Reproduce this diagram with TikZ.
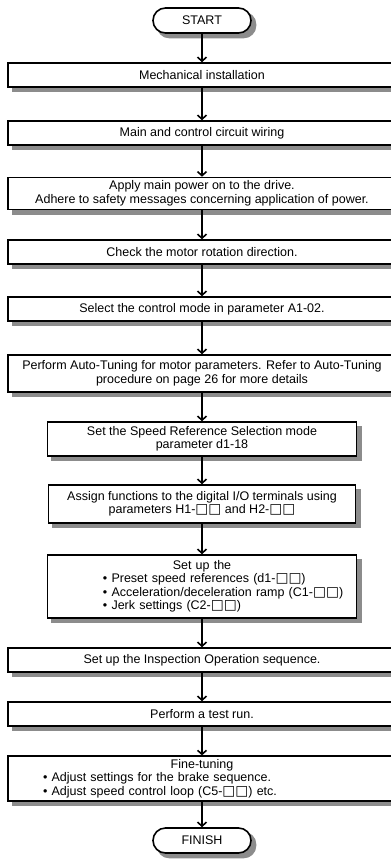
\documentclass[tikz,border=0pt]{standalone}
\usepackage{fontspec}
\setmainfont{Liberation Sans}
\newfontfamily\sqfont{DejaVu Sans}[Scale=1.1]
\usetikzlibrary{arrows.meta}
\newcommand{\sqbox}{{\sqfont\char"25A1}}
\pgfdeclarelayer{shade}
\pgfsetlayers{shade,main}
\tikzset{stepbox/.style = {draw, line width=1.6pt, fill=white,
                           minimum width=388pt, minimum height=24pt, inner sep=3pt,
                           align=center, font=\fontsize{12.5}{13.5}\selectfont},
         termbox/.style = {stepbox, minimum width=98pt, minimum height=25pt,
                           rounded corners=12.5pt},
         boxshade/.style = {fill=black!45, draw=none},
         flow/.style = {line width=1.6pt, -{Straight Barb[length=4pt,width=9pt]}}}

\begin{document}
\begin{tikzpicture}[x=1pt, y=-1pt]
  \useasboundingbox (0,0) rectangle (391,860);
  \node[termbox] (start) at (202,20.5) {START};
  \node[stepbox] (mech) at (202,75) {Mechanical installation};
  \node[stepbox] (wiring) at (202,133) {Main and control circuit wiring};
  \node[stepbox, minimum height=32pt] (power) at (202,193.5)
    {Apply main power on to the drive.\\Adhere to safety messages concerning application of power.};
  \node[stepbox] (rotation) at (202,252) {Check the motor rotation direction.};
  \node[stepbox] (ctrlmode) at (202,309) {Select the control mode in parameter A1-02.};
  \node[stepbox, minimum height=37pt] (autotune) at (202,373.5)
    {Perform Auto-Tuning for motor parameters. Refer to Auto-Tuning\\procedure on page 26 for more details};
  \node[stepbox, minimum width=309pt, minimum height=34pt] (speedref) at (202,439)
    {Set the Speed Reference Selection mode\\parameter d1-18};
  \node[stepbox, minimum width=307pt, minimum height=38pt] (digio) at (202,504)
    {Assign functions to the digital I/O terminals using\\parameters H1-\sqbox\sqbox{} and H2-\sqbox\sqbox};
  \node[stepbox, minimum width=309pt, minimum height=63pt, text width=300pt, align=left] (setup) at (202,586.5)
    {\makebox[\linewidth]{Set up the}\\
     \hspace*{51pt}• Preset speed references (d1-\sqbox\sqbox)\\
     \hspace*{51pt}• Acceleration/deceleration ramp (C1-\sqbox\sqbox)\\
     \hspace*{51pt}• Jerk settings (C2-\sqbox\sqbox)};
  \node[stepbox] (inspect) at (202,660) {Set up the Inspection Operation sequence.};
  \node[stepbox] (testrun) at (202,714) {Perform a test run.};
  \node[stepbox, minimum height=43pt, text width=370pt, align=left] (finetune) at (202,778.5)
    {\makebox[\linewidth]{Fine-tuning}\\
     \hspace*{26pt}• Adjust settings for the brake sequence.\\
     \hspace*{26pt}• Adjust speed control loop (C5-\sqbox\sqbox) etc.};
  \node[termbox] (finish) at (202,840.5) {FINISH};
  \foreach \a/\b in {start/mech, mech/wiring, wiring/power, power/rotation,
                     rotation/ctrlmode, ctrlmode/autotune, autotune/speedref,
                     speedref/digio, digio/setup, setup/inspect, inspect/testrun,
                     testrun/finetune, finetune/finish}
    \draw[flow] (\a) -- (\b);
  % shadows behind the boxes
  \begin{pgfonlayer}{shade}
    \foreach \n in {mech, wiring, power, rotation, ctrlmode, autotune, speedref,
                    digio, setup, inspect, testrun, finetune}
      \fill[boxshade] ([shift={(4.5pt,-4.5pt)}]\n.south west) rectangle ([shift={(4.5pt,-4.5pt)}]\n.north east);
    \foreach \n in {start, finish}
      \fill[boxshade, rounded corners=12.5pt] ([shift={(4.5pt,-4.5pt)}]\n.south west) rectangle ([shift={(4.5pt,-4.5pt)}]\n.north east);
  \end{pgfonlayer}
\end{tikzpicture}
\end{document}
